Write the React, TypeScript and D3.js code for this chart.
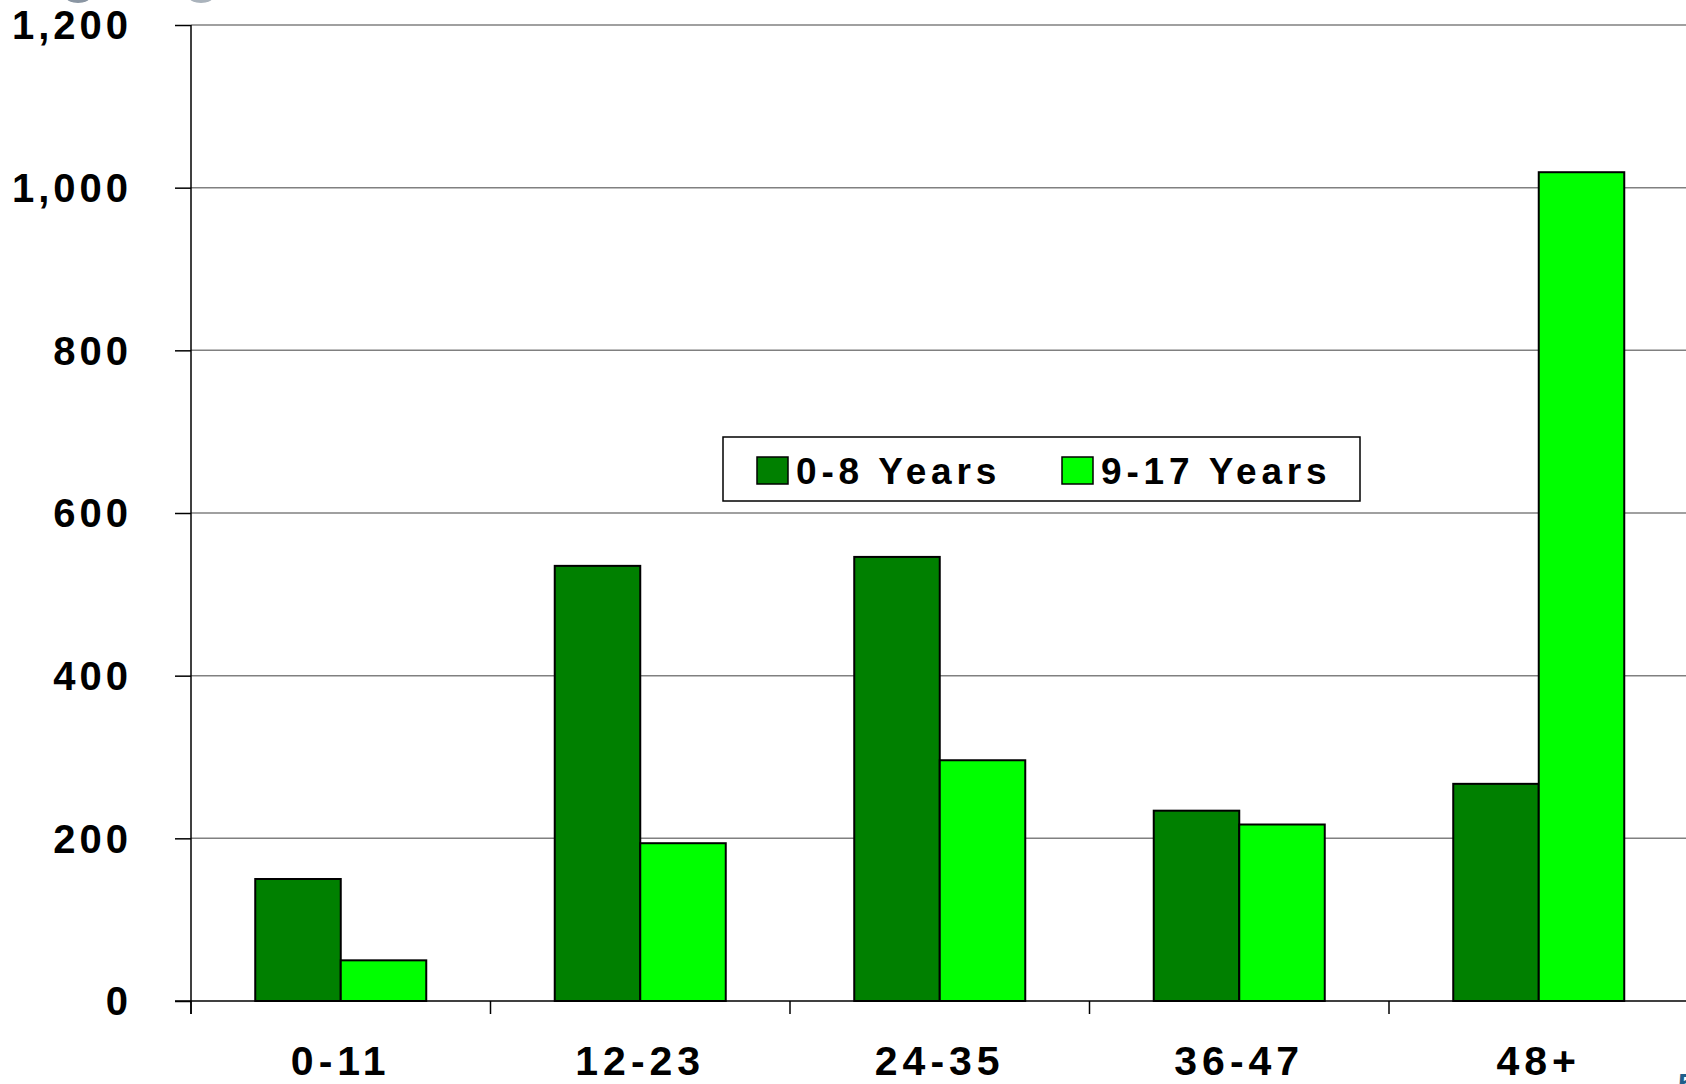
import React, { useEffect, useRef } from 'react';
import * as d3 from 'd3';

// chart data
const categories = ['0-11', '12-23', '24-35', '36-47', '48+'];
const seriesNames = ['0-8 Years', '9-17 Years'];
const youngValues = [150, 535, 546, 234, 267];
const olderValues = [50, 194, 296, 217, 1019];
const yTicks = [0, 200, 400, 600, 800, 1000, 1200];
const seriesColors = ['#008000', '#00FF00'];

const FONT = '"Liberation Sans", Arial, sans-serif';

const App = () => {
  const svgRef = useRef<SVGSVGElement | null>(null);

  const width = 1686;
  const height = 1084;
  const margin = { left: 191, top: 25, bottom: 1001 };
  const plotRight = 191 + 5 * 299.5;

  useEffect(() => {
    const svg = d3.select(svgRef.current);
    svg.selectAll('*').remove();

    const yScale = d3.scaleLinear().domain([0, 1200]).range([margin.bottom, margin.top]);

    const xScale = d3.scaleBand<string>()
      .domain(categories)
      .range([margin.left, plotRight])
      .padding(0);

    const bw = xScale.bandwidth();
    const xInner = d3.scaleBand<string>()
      .domain(seriesNames)
      .range([bw * 0.2145, bw * 0.7855])
      .padding(0);

    // gridlines
    svg.append('g')
      .selectAll('line')
      .data(yTicks.filter(d => d > 0))
      .join('line')
      .attr('x1', margin.left)
      .attr('x2', width)
      .attr('y1', d => yScale(d))
      .attr('y2', d => yScale(d))
      .attr('stroke', '#808080')
      .attr('stroke-width', 1.5);

    // y axis ticks
    const yAxis = svg.append('g')
      .attr('transform', `translate(${margin.left},0)`)
      .call(d3.axisLeft(yScale).tickValues(yTicks).tickSize(16).tickFormat(d3.format(',')).tickPadding(0));
    yAxis.select('.domain').remove();
    yAxis.selectAll('.tick line').attr('stroke', '#000').attr('stroke-width', 1.5);
    yAxis.selectAll('.tick text').remove();

    svg.append('line')
      .attr('x1', margin.left).attr('x2', margin.left)
      .attr('y1', margin.top).attr('y2', margin.bottom + 13)
      .attr('stroke', '#000').attr('stroke-width', 1.5);

    svg.append('g')
      .selectAll('text')
      .data(yTicks)
      .join('text')
      .attr('x', 132)
      .attr('y', d => yScale(d))
      .attr('dy', '0.36em')
      .attr('text-anchor', 'end')
      .style('font-family', FONT)
      .style('font-weight', 'bold')
      .style('font-size', '40px')
      .style('letter-spacing', '4px')
      .style('fill', '#000')
      .text(d => d3.format(',')(d));

    // bars
    const groups = svg.append('g')
      .selectAll('g')
      .data(categories)
      .join('g')
      .attr('transform', d => `translate(${xScale(d)},0)`);

    groups.selectAll('rect')
      .data((d, i) => [
        { name: seriesNames[0], value: youngValues[i], color: seriesColors[0] },
        { name: seriesNames[1], value: olderValues[i], color: seriesColors[1] },
      ])
      .join('rect')
      .attr('x', d => xInner(d.name) as number)
      .attr('y', d => yScale(d.value))
      .attr('width', xInner.bandwidth())
      .attr('height', d => margin.bottom - yScale(d.value))
      .attr('fill', d => d.color)
      .attr('stroke', '#000')
      .attr('stroke-width', 2);

    // x axis baseline + ticks
    svg.append('line')
      .attr('x1', margin.left - 16).attr('x2', width)
      .attr('y1', margin.bottom).attr('y2', margin.bottom)
      .attr('stroke', '#000').attr('stroke-width', 1.5);

    svg.append('g')
      .selectAll('line')
      .data(categories)
      .join('line')
      .attr('x1', d => xScale(d) as number)
      .attr('x2', d => xScale(d) as number)
      .attr('y1', margin.bottom)
      .attr('y2', margin.bottom + 13)
      .attr('stroke', '#000')
      .attr('stroke-width', 1.5);

    svg.append('g')
      .selectAll('text')
      .data(categories)
      .join('text')
      .attr('x', d => (xScale(d) as number) + bw / 2)
      .attr('y', 1075)
      .attr('text-anchor', 'middle')
      .style('font-family', FONT)
      .style('font-weight', 'bold')
      .style('font-size', '41px')
      .style('letter-spacing', '5px')
      .style('fill', '#000')
      .text(d => d);

    // legend
    const legend = svg.append('g');
    legend.append('rect')
      .attr('x', 723).attr('y', 437)
      .attr('width', 637).attr('height', 64)
      .attr('fill', '#fff')
      .attr('stroke', '#000')
      .attr('stroke-width', 1.5);

    const legendX = [757, 1062];
    seriesNames.forEach((name, i) => {
      legend.append('rect')
        .attr('x', legendX[i]).attr('y', 457)
        .attr('width', 31).attr('height', 27)
        .attr('fill', seriesColors[i])
        .attr('stroke', '#000')
        .attr('stroke-width', 1.5);
      legend.append('text')
        .attr('x', legendX[i] + 39)
        .attr('y', 484)
        .style('font-family', FONT)
        .style('font-weight', 'bold')
        .style('font-size', '37px')
        .style('letter-spacing', '4.8px')
        .style('fill', '#000')
        .text(name);
    });

    // bits of the cropped slide logo along the edges
    svg.append('ellipse').attr('cx', 78).attr('cy', -3).attr('rx', 12).attr('ry', 6).attr('fill', '#8a96a3');
    svg.append('ellipse').attr('cx', 201).attr('cy', -3).attr('rx', 12).attr('ry', 6).attr('fill', '#aab3bc');
    svg.append('text')
      .attr('x', 1678).attr('y', 1094)
      .style('font-family', FONT)
      .style('font-weight', 'bold')
      .style('font-size', '30px')
      .style('fill', '#1f5f8b')
      .text('5');
  }, []);

  return (
    <svg
      ref={svgRef}
      width={width}
      height={height}
      style={{ position: 'absolute', left: 0, top: 0, background: '#fff' }}
    ></svg>
  );
};

export default App;
